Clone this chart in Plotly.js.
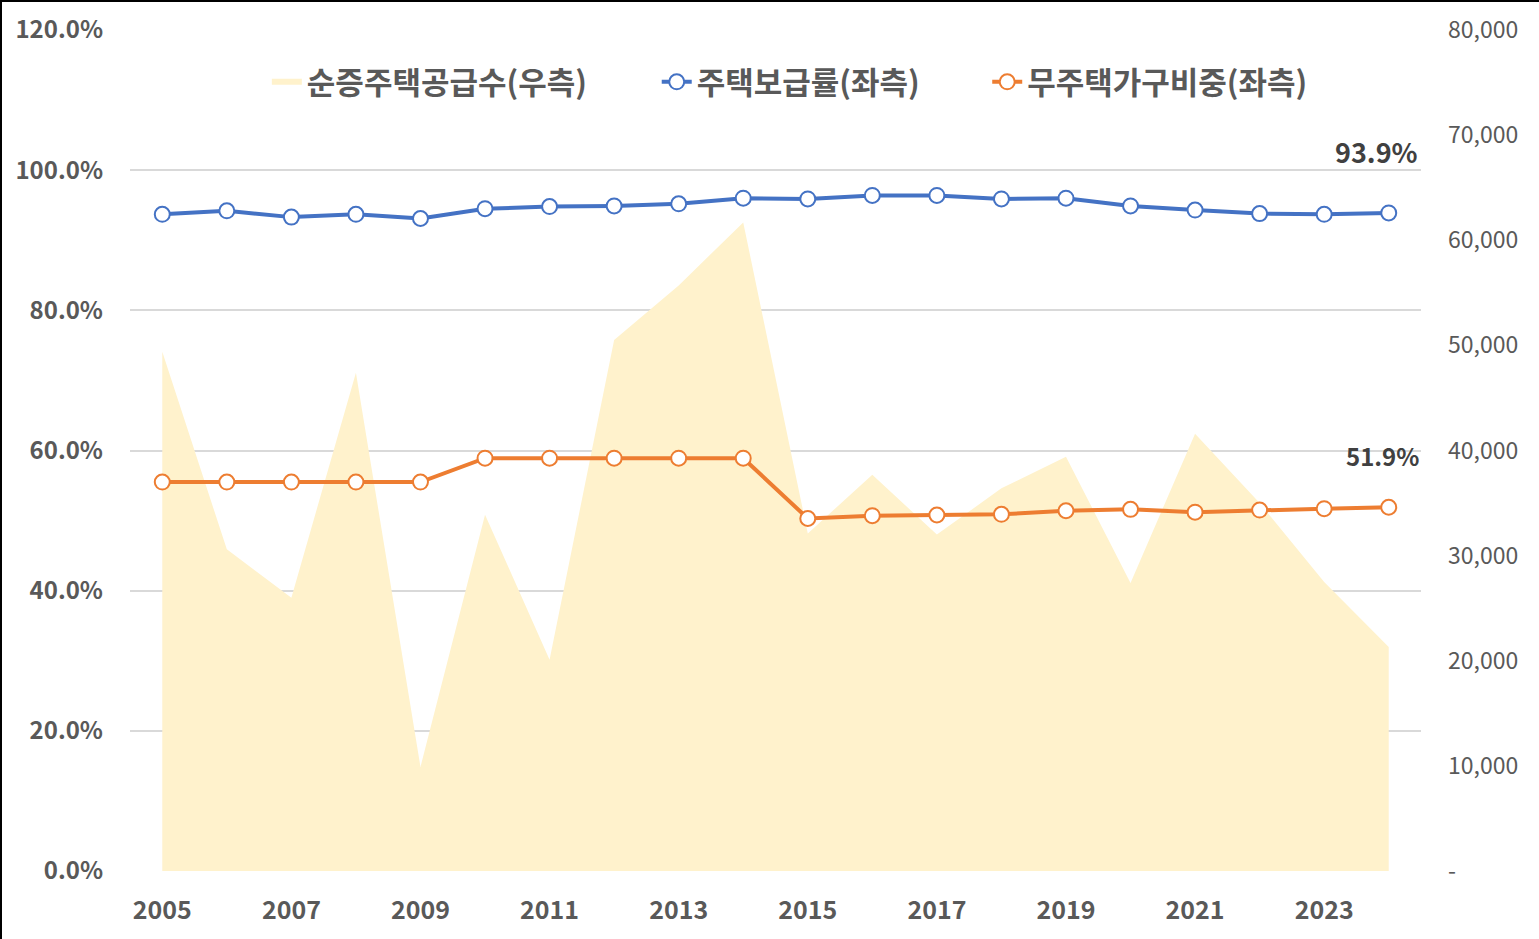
<!DOCTYPE html>
<html>
<head>
<meta charset="utf-8">
<script src="https://cdn.plot.ly/plotly-3.0.1.min.js"></script>
<style>
  html, body { margin: 0; padding: 0; background: #fff; }
  #wrap { position: relative; width: 1539px; height: 939px; }
  #chart { position: absolute; left: 0; top: 0; width: 1539px; height: 939px; }
  #frame { position: absolute; left: 0; top: 0; width: 1539px; height: 939px;
           border-top: 2px solid #000; border-left: 2px solid #000;
           box-sizing: border-box; pointer-events: none; }
</style>
</head>
<body>
<div id="wrap">
  <div id="chart"></div>
  <div id="frame"></div>
</div>
<script>
// 연도
var years = [2005, 2006, 2007, 2008, 2009, 2010, 2011, 2012, 2013, 2014,
             2015, 2016, 2017, 2018, 2019, 2020, 2021, 2022, 2023, 2024];

// 순증주택공급수 (우측, 호)
var netSupply = [49400, 30600, 26000, 47400, 9900, 33900, 20100, 50500, 55700, 61700,
                 32100, 37700, 32000, 36400, 39400, 27400, 41600, 35000, 27500, 21300];

// 주택보급률 (좌측, %)
var supplyRate = [93.7, 94.2, 93.3, 93.7, 93.1, 94.5, 94.8, 94.9, 95.2, 96.0,
                  95.9, 96.4, 96.4, 95.9, 96.0, 94.9, 94.3, 93.8, 93.7, 93.9];

// 무주택가구비중 (좌측, %)
var homelessShare = [55.5, 55.5, 55.5, 55.5, 55.5, 58.9, 58.9, 58.9, 58.9, 58.9,
                     50.3, 50.7, 50.8, 50.9, 51.4, 51.6, 51.2, 51.5, 51.7, 51.9];

var names = ['순증주택공급수(우측)', '주택보급률(좌측)', '무주택가구비중(좌측)'];

var leftTicks = [0, 20, 40, 60, 80, 100, 120];
var rightTicks = [0, 10000, 20000, 30000, 40000, 50000, 60000, 70000, 80000];
var rightTickText = ['-', '10,000', '20,000', '30,000', '40,000', '50,000', '60,000', '70,000', '80,000'];
var xTicks = [2005, 2007, 2009, 2011, 2013, 2015, 2017, 2019, 2021, 2023];

var leftMax = 120, rightMax = 80000;
var leftTickText = leftTicks.map(function (v) { return v.toFixed(1) + '%'; });
// left-axis gridlines, drawn on the (lower) right axis so the area hides them
var gridVals = leftTicks.map(function (v) { return v / leftMax * rightMax; });

var FONT = '"Noto Sans CJK KR", "Noto Sans", sans-serif';
var GREY = '#595959';
var GRID = '#D9D9D9';

var traces = [
  {
    x: years, y: netSupply, name: names[0], yaxis: 'y', legend: 'legend',
    type: 'scatter', mode: 'none', fill: 'tozeroy', fillcolor: '#FFF2CC'
  },
  {
    x: years, y: supplyRate, name: names[1], yaxis: 'y2', legend: 'legend2',
    type: 'scatter', mode: 'lines+markers',
    line: { color: '#4472C4', width: 4 },
    marker: { size: 15, color: '#FFFFFF', line: { color: '#4472C4', width: 2 } }
  },
  {
    x: years, y: homelessShare, name: names[2], yaxis: 'y2', legend: 'legend3',
    type: 'scatter', mode: 'lines+markers',
    line: { color: '#ED7D31', width: 4 },
    marker: { size: 15, color: '#FFFFFF', line: { color: '#ED7D31', width: 2 } }
  }
];

var lastIdx = years.length - 1;

function legendAt(x) {
  return {
    orientation: 'h', x: x, xanchor: 'left', y: 0.938, yanchor: 'middle',
    font: { family: FONT, size: 31, color: GREY, weight: 'bold' },
    bgcolor: 'rgba(0,0,0,0)'
  };
}

var layout = {
  width: 1539, height: 939,
  margin: { t: 30, b: 68, l: 130, r: 118 },
  paper_bgcolor: '#FFFFFF', plot_bgcolor: '#FFFFFF',
  font: { family: FONT, color: GREY },
  showlegend: true,
  legend: legendAt(0.106),
  legend2: legendAt(0.408),
  legend3: legendAt(0.664),
  xaxis: {
    range: [2004.5, 2024.5],
    tickvals: xTicks,
    showgrid: false, zeroline: false, showline: false, ticks: '',
    tickfont: { family: FONT, size: 25, color: GREY, weight: 'bold' },
    ticklabelstandoff: 22
  },
  yaxis: {
    side: 'right',
    range: [0, rightMax],
    tickvals: rightTicks, ticktext: rightTickText,
    showgrid: false, zeroline: false, showline: false, ticks: '',
    tickfont: { family: FONT, size: 23, color: GREY },
    ticklabelstandoff: 26,
    minor: { tickmode: 'array', tickvals: gridVals, showgrid: true,
             gridcolor: GRID, gridwidth: 2, ticks: '' }
  },
  yaxis2: {
    overlaying: 'y', side: 'left',
    range: [0, leftMax],
    tickvals: leftTicks, ticktext: leftTickText,
    showgrid: false, zeroline: false, showline: false, ticks: '',
    tickfont: { family: FONT, size: 24, color: GREY, weight: 'bold' },
    ticklabelstandoff: 26
  },
  annotations: [
    {
      x: years[lastIdx], y: supplyRate[lastIdx], xref: 'x', yref: 'y2',
      text: supplyRate[lastIdx].toFixed(1) + '%', showarrow: false,
      xshift: -12, yshift: 61,
      font: { family: FONT, size: 27, color: '#404040', weight: 'bold' }
    },
    {
      x: years[lastIdx], y: homelessShare[lastIdx], xref: 'x', yref: 'y2',
      text: homelessShare[lastIdx].toFixed(1) + '%', showarrow: false,
      xshift: -6, yshift: 52,
      font: { family: FONT, size: 24, color: '#404040', weight: 'bold' }
    }
  ]
};

var config = { responsive: false, displayModeBar: false, staticPlot: true };

Plotly.newPlot('chart', traces, layout, config);
</script>
</body>
</html>
